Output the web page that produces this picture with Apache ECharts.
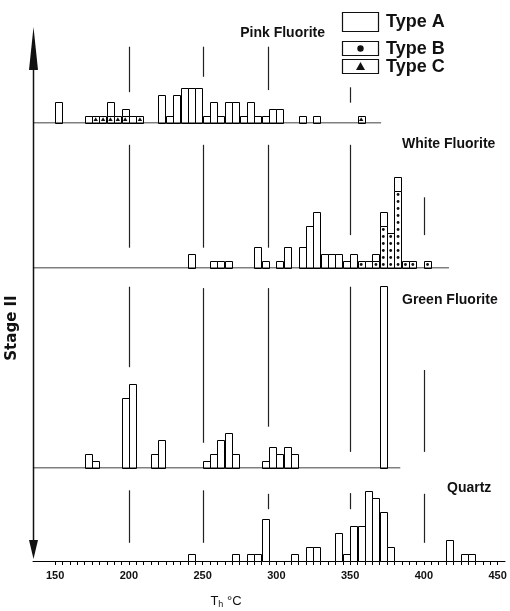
<!DOCTYPE html>
<html>
<head>
<meta charset="utf-8">
<script src="https://cdn.jsdelivr.net/npm/echarts@6/dist/echarts.min.js"></script>
<style>
  html, body { margin: 0; padding: 0; background: #fff; }
  #chart { width: 510px; height: 611px; }
</style>
</head>
<body>
<div id="chart"></div>
<script>
// bin width in °C
var binWidth = 5;

// [bin start °C, number of inclusions]
var pinkTypeA = [[150, 3], [170, 1], [185, 2], [195, 1], [200, 1], [220, 4], [225, 1], [230, 4], [235, 5],
  [240, 5], [245, 5], [250, 1], [255, 3], [260, 1], [265, 3], [270, 3], [275, 1], [280, 3], [285, 1],
  [290, 1], [295, 2], [300, 2], [315, 1], [325, 1]];
var pinkTypeC = [[175, 1], [180, 1], [185, 1], [190, 1], [195, 1], [205, 1], [355, 1]];

var whiteTypeA = [[240, 2], [255, 1], [260, 1], [265, 1], [285, 3], [290, 1], [300, 1], [305, 3], [315, 3],
  [320, 6], [325, 8], [330, 2], [335, 2], [340, 2], [345, 1], [350, 2], [360, 1], [365, 1], [370, 2], [380, 2]];
var whiteTypeB = [[355, 1], [365, 1], [370, 6], [375, 5], [380, 11], [385, 1], [390, 1], [400, 1]];

var greenTypeA = [[170, 2], [175, 1], [195, 10], [200, 12], [215, 2], [220, 4], [250, 1], [255, 2], [260, 4],
  [265, 5], [270, 2], [290, 1], [295, 3], [300, 2], [305, 3], [310, 2], [370, 26]];

var quartzTypeA = [[240, 1], [270, 1], [280, 1], [285, 1], [290, 6], [310, 1], [320, 2], [325, 2], [340, 4],
  [345, 1], [350, 5], [355, 5], [360, 10], [365, 9], [370, 7], [375, 2], [415, 3], [425, 1], [430, 1]];

// reference lines: [°C, low, high] in counts
var pinkRefLines = [[200, 4.4, 10.9], [250, 6.6, 10.9], [294, 4.7, 10.9], [350, 2.9, 5.1]];
var whiteRefLines = [[200, 2.9, 17.6], [250, 2.9, 17.6], [294, 2.9, 17.6], [350, 4.7, 17.6], [400, 4.7, 10.1]];
var greenRefLines = [[200, 14.4, 25.9], [250, 3.6, 25.7], [294, 5.9, 25.7], [350, 2.3, 25.9], [400, 2.3, 14]];
var quartzRefLines = [[200, 2.6, 10.1], [250, 2.6, 10.1], [294, 7.4, 9.6], [350, 7.4, 9.7], [400, 2.6, 9.6]];

var panelNames = ['Pink Fluorite', 'White Fluorite', 'Green Fluorite', 'Quartz'];
var baselineEnds = [371, 417, 384, 455];
var tickLabels = [150, 200, 250, 300, 350, 400, 450];
var legendNames = ['Type A', 'Type B', 'Type C'];

var myChart = echarts.init(document.getElementById('chart'));

// stack B / C at the bottom, A on top
function buildStack(typeA, typeB, typeC) {
  var items = [];
  var bottom = {};
  typeB.forEach(function (d) { items.push([d[0], 0, d[1], 1]); bottom[d[0]] = d[1]; });
  typeC.forEach(function (d) { items.push([d[0], 0, d[1], 2]); bottom[d[0]] = (bottom[d[0]] || 0) + d[1]; });
  typeA.forEach(function (d) {
    var b = bottom[d[0]] || 0;
    items.push([d[0], b, b + d[1], 0]);
  });
  return items;
}

function renderBar(params, api) {
  var x0 = api.value(0), y0 = api.value(1), y1 = api.value(2), kind = api.value(3);
  var p0 = api.coord([x0, y0]);
  var p1 = api.coord([x0 + binWidth, y1]);
  var children = [{
    type: 'rect',
    shape: { x: Math.round(p0[0]) + 0.5, y: Math.round(p1[1]) + 0.5, width: Math.round(p1[0] - p0[0]), height: Math.round(p0[1] - p1[1]) },
    style: { fill: '#fff', stroke: '#000', lineWidth: 1 }
  }];
  for (var u = y0; kind > 0 && u < y1; u++) {
    var c = api.coord([x0 + binWidth / 2, u + 0.5]);
    if (kind === 1) {
      children.push({ type: 'circle', shape: { cx: c[0], cy: c[1], r: 1.4 }, style: { fill: '#111' } });
    } else {
      children.push({ type: 'polygon', shape: { points: [[c[0], c[1] - 2.2], [c[0] - 2.2, c[1] + 1.6], [c[0] + 2.2, c[1] + 1.6]] }, style: { fill: '#111' } });
    }
  }
  return { type: 'group', children: children };
}

function renderRef(params, api) {
  var a = api.coord([api.value(0), api.value(1)]);
  var b = api.coord([api.value(0), api.value(2)]);
  var x = Math.round(a[0]) + 0.5;
  return { type: 'line', shape: { x1: x, y1: a[1], x2: x, y2: b[1] }, style: { stroke: '#222', lineWidth: 1.2 } };
}

var unitPx = 7;
var gridBoxes = [[20, 103], [124, 144], [269, 199], [469, 92]];
var stacks = [
  buildStack(pinkTypeA, [], pinkTypeC),
  buildStack(whiteTypeA, whiteTypeB, []),
  buildStack(greenTypeA, [], []),
  buildStack(quartzTypeA, [], [])
];
var refs = [pinkRefLines, whiteRefLines, greenRefLines, quartzRefLines];

var minorTicks = [];
for (var v = 150; v <= 450; v += binWidth) minorTicks.push(v);

var grid = [], xAxis = [], yAxis = [], series = [];
gridBoxes.forEach(function (g, i) {
  grid.push({ left: 33, width: 472, top: g[0], height: g[1] });
  var last = i === gridBoxes.length - 1;
  xAxis.push({
    gridIndex: i, type: 'value', min: 135, max: 455,
    show: last,
    splitLine: { show: false },
    axisLine: { show: last, lineStyle: { color: '#000', width: 1 } },
    axisTick: { show: last, length: 4, lineStyle: { color: '#000' }, customValues: minorTicks },
    axisLabel: { show: last, customValues: tickLabels, margin: 9, color: '#111',
      fontFamily: 'Liberation Sans', fontWeight: 'bold', fontSize: 11 }
  });
  yAxis.push({ gridIndex: i, type: 'value', min: 0, max: g[1] / unitPx, show: false, splitLine: { show: false } });
  series.push({
    type: 'custom', xAxisIndex: i, yAxisIndex: i, renderItem: renderRef, data: refs[i], silent: true
  });
  if (!last) {
    series.push({
      type: 'line', xAxisIndex: i, yAxisIndex: i, symbol: 'none', silent: true,
      lineStyle: { color: '#000', width: 1.2 },
      data: [[135, 0], [baselineEnds[i], 0]]
    });
  }
  series.push({
    type: 'custom', xAxisIndex: i, yAxisIndex: i, renderItem: renderBar, data: stacks[i], silent: true, z: 3
  });
});

var labelFont = { fontFamily: 'Liberation Sans', fontWeight: 'bold', fontSize: 14, fill: '#111' };
function labelText(text, x, y, align) {
  return { type: 'text', x: x, y: y, style: Object.assign({ text: text, align: align, verticalAlign: 'middle' }, labelFont) };
}

var legendFont = { fontFamily: 'Liberation Sans', fontWeight: 'bold', fontSize: 18, fill: '#111' };
var graphic = [
  // double-headed y arrow
  { type: 'line', shape: { x1: 33.5, y1: 60, x2: 33.5, y2: 548 }, style: { stroke: '#111', lineWidth: 1.5 } },
  { type: 'polygon', shape: { points: [[33.5, 27], [29, 70], [38, 70]] }, style: { fill: '#111' } },
  { type: 'polygon', shape: { points: [[33.5, 559], [29, 540], [38, 540]] }, style: { fill: '#111' } },
  { type: 'text', x: 12, y: 328, rotation: Math.PI / 2,
    style: { text: 'Stage II', align: 'center', verticalAlign: 'middle', fontFamily: 'DejaVu Sans', fontWeight: 'bold', fontSize: 15, fill: '#111' } },
  labelText(panelNames[0], 325, 33, 'right'),
  labelText(panelNames[1], 402, 144, 'left'),
  labelText(panelNames[2], 402, 300, 'left'),
  labelText(panelNames[3], 447, 488, 'left'),
  // legend
  { type: 'rect', shape: { x: 342.5, y: 12.5, width: 36, height: 19 }, style: { fill: '#fff', stroke: '#111', lineWidth: 1.2 } },
  { type: 'rect', shape: { x: 342.5, y: 41.5, width: 36, height: 14 }, style: { fill: '#fff', stroke: '#111', lineWidth: 1.2 } },
  { type: 'circle', shape: { cx: 360.5, cy: 48.5, r: 3.2 }, style: { fill: '#111' } },
  { type: 'rect', shape: { x: 342.5, y: 59.5, width: 36, height: 14 }, style: { fill: '#fff', stroke: '#111', lineWidth: 1.2 } },
  { type: 'polygon', shape: { points: [[360.5, 62], [356, 70], [365, 70]] }, style: { fill: '#111' } },
  { type: 'text', x: 386, y: 22, style: Object.assign({ text: legendNames[0], verticalAlign: 'middle' }, legendFont) },
  { type: 'text', x: 386, y: 49, style: Object.assign({ text: legendNames[1], verticalAlign: 'middle' }, legendFont) },
  { type: 'text', x: 386, y: 67, style: Object.assign({ text: legendNames[2], verticalAlign: 'middle' }, legendFont) },
  { type: 'text', x: 226, y: 601,
    style: { text: '{t|T}{s|h}{t| °C}', align: 'center', verticalAlign: 'middle', fill: '#111',
      rich: { t: { fontFamily: 'Liberation Sans', fontSize: 13, fill: '#111' },
              s: { fontFamily: 'Liberation Sans', fontSize: 9, fill: '#111', padding: [7, 0, 0, 0] } } } }
];

var option = {
  backgroundColor: '#fff',
  animation: false,
  grid: grid,
  xAxis: xAxis,
  yAxis: yAxis,
  series: series,
  graphic: graphic
};

myChart.setOption(option);
</script>
</body>
</html>
